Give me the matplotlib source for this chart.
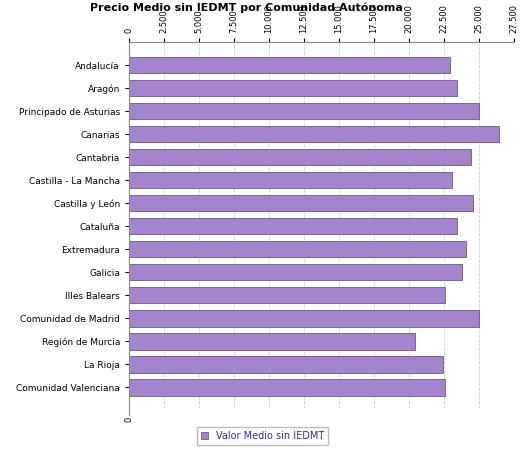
import matplotlib
matplotlib.use("Agg")
import matplotlib.pyplot as plt
from matplotlib.ticker import FuncFormatter

regions = ["Andalucía", "Aragón", "Principado de Asturias", "Canarias", "Cantabria",
           "Castilla - La Mancha", "Castilla y León", "Cataluña", "Extremadura", "Galicia",
           "Illes Balears", "Comunidad de Madrid", "Región de Murcia", "La Rioja",
           "Comunidad Valenciana"]
values = [22900, 23400, 25000, 26400, 24400, 23100, 24600, 23400, 24100, 23800,
          22600, 25000, 20400, 22400, 22600]
ticks = [0, 2500, 5000, 7500, 10000, 12500, 15000, 17500, 20000, 22500, 25000, 27500]

fig = plt.figure(figsize=(5.25, 4.5), dpi=100)
ax = fig.add_axes([129/525, 1-408/450, 385/525, (408-42)/450])
y = list(range(len(regions)))
ax.barh(y, values, height=0.72, color="#a484cc", edgecolor="#6a5a80", linewidth=0.6,
        label="Valor Medio sin IEDMT", zorder=2)
ax.set_ylim(len(regions)-0.1, -1.0)
ax.set_xlim(0, 27500)
ax.set_xticks(ticks)
fmt = FuncFormatter(lambda v, p: f"{v:,.0f}".replace(",", "."))
ax.xaxis.set_major_formatter(fmt)
ax.tick_params(axis="x", labelsize=6, top=True, labeltop=True, bottom=False, labelbottom=False,
               length=3, labelrotation=90)
ax.set_yticks(y)
ax.set_yticklabels(regions, fontsize=6.5)
ax.tick_params(axis="y", length=3)
ax.grid(axis="x", linestyle="--", color="#d0d0d0", linewidth=0.6, zorder=0)
ax.spines["right"].set_visible(False)
ax.spines["bottom"].set_visible(False)
for s in ["top", "left"]:
    ax.spines[s].set_color("#888888")
# bottom axis with only the zero label, like the reference
ax.plot([0, 0], [len(regions)-0.1, len(regions)+0.2], color="#888888", lw=0.8, clip_on=False)
ax.text(0, len(regions)+0.3, ax.xaxis.get_major_formatter()(ticks[0], 0), rotation=90,
        ha="center", va="top", fontsize=6)
fig.text(0.47, 0.995, "Precio Medio sin IEDMT por Comunidad Autónoma", ha="center", va="top",
         fontsize=8, fontweight="bold")
fig.legend(loc="lower center", bbox_to_anchor=(0.5, 0.0), fontsize=7, frameon=True,
           fancybox=False, edgecolor="#aaaaaa", handlelength=0.8, labelcolor="#3a2a80")
fig.savefig("out.png", dpi=100)
